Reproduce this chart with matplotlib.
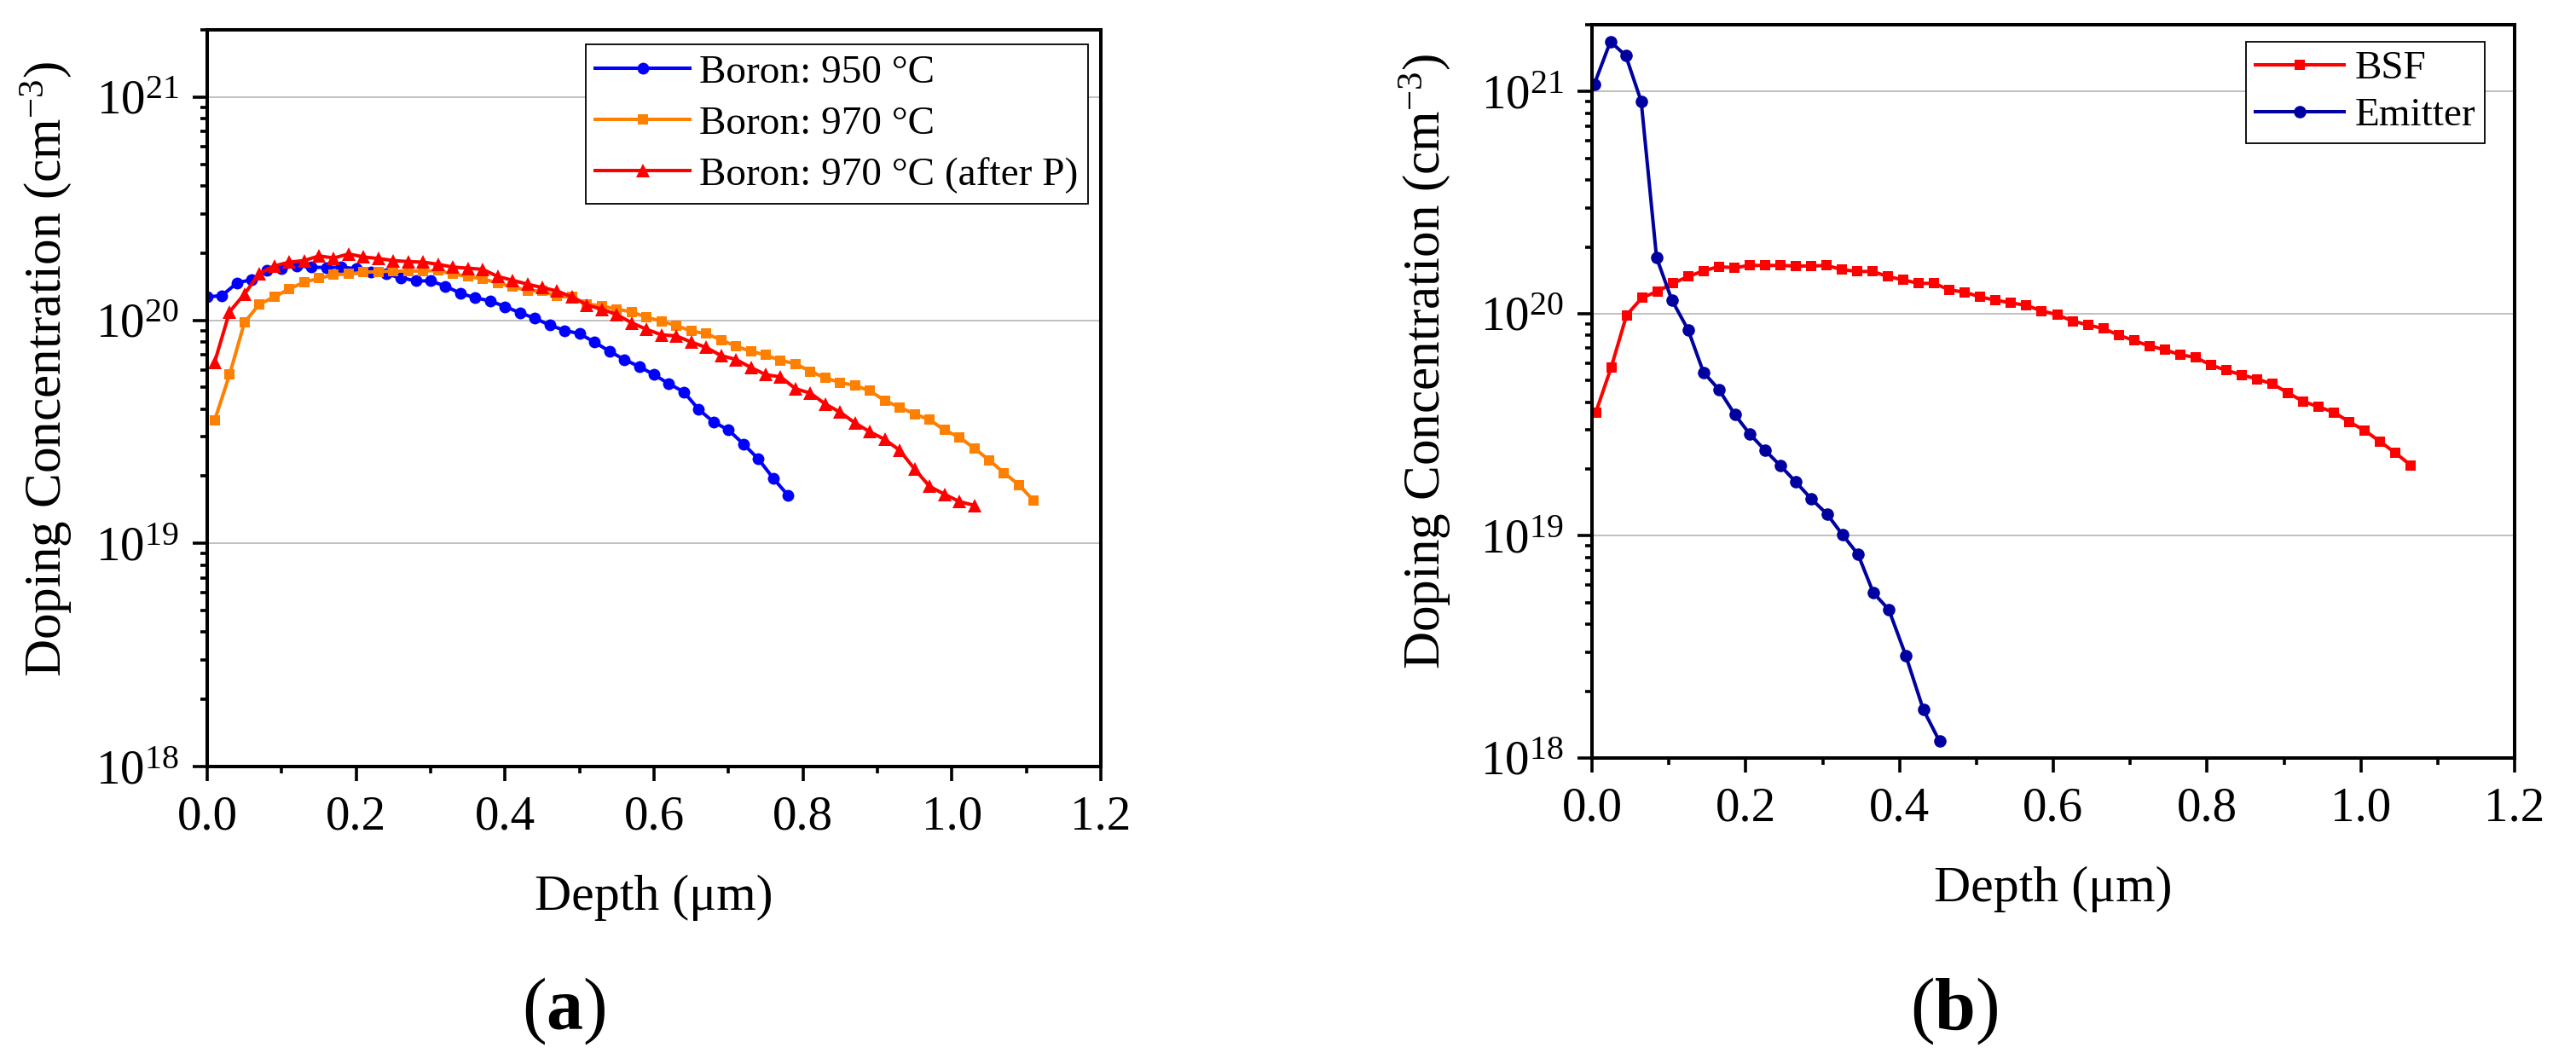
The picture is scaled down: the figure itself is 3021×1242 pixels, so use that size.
import numpy as np
import matplotlib
matplotlib.use('Agg')
import matplotlib.pyplot as plt
from matplotlib.ticker import (LogLocator, NullFormatter, MultipleLocator,
                               FormatStrFormatter, LogFormatterMathtext)

# ---------------- data (a) ----------------
x_b950 = [0.00, 0.02, 0.04, 0.06, 0.08, 0.10, 0.12, 0.14, 0.16, 0.18,
          0.20, 0.22, 0.24, 0.26, 0.28, 0.30, 0.32, 0.34, 0.36, 0.38,
          0.40, 0.42, 0.44, 0.46, 0.48, 0.50, 0.52, 0.54, 0.56, 0.58,
          0.60, 0.62, 0.64, 0.66, 0.68, 0.70, 0.72, 0.74, 0.76, 0.78]
y_b950 = [1.27e20, 1.29e20, 1.47e20, 1.52e20, 1.67e20, 1.71e20, 1.75e20, 1.73e20, 1.72e20, 1.73e20,
          1.70e20, 1.64e20, 1.61e20, 1.55e20, 1.50e20, 1.50e20, 1.42e20, 1.32e20, 1.26e20, 1.22e20,
          1.15e20, 1.08e20, 1.02e20, 9.5e19, 9.0e19, 8.7e19, 7.98e19, 7.26e19, 6.67e19, 6.2e19,
          5.7e19, 5.19e19, 4.77e19, 3.98e19, 3.5e19, 3.22e19, 2.79e19, 2.39e19, 1.96e19, 1.64e19]

x_b970 = [0.01, 0.03, 0.05, 0.07, 0.09, 0.11, 0.13, 0.15, 0.17, 0.19,
          0.21, 0.23, 0.25, 0.27, 0.29, 0.31, 0.33, 0.35, 0.37, 0.39,
          0.41, 0.43, 0.45, 0.47, 0.49, 0.51, 0.53, 0.55, 0.57, 0.59,
          0.61, 0.63, 0.65, 0.67, 0.69, 0.71, 0.73, 0.75, 0.77, 0.79,
          0.81, 0.83, 0.85, 0.87, 0.89, 0.91, 0.93, 0.95, 0.97, 0.99,
          1.01, 1.03, 1.05, 1.07, 1.09, 1.11]
y_b970 = [3.56e19, 5.7e19, 9.77e19, 1.18e20, 1.27e20, 1.38e20, 1.48e20, 1.54e20, 1.60e20, 1.61e20,
          1.64e20, 1.65e20, 1.66e20, 1.66e20, 1.66e20, 1.67e20, 1.61e20, 1.57e20, 1.53e20, 1.47e20,
          1.41e20, 1.36e20, 1.35e20, 1.28e20, 1.27e20, 1.18e20, 1.16e20, 1.12e20, 1.09e20, 1.03e20,
          9.9e19, 9.46e19, 8.94e19, 8.7e19, 8.17e19, 7.64e19, 7.26e19, 6.98e19, 6.6e19, 6.38e19,
          5.9e19, 5.51e19, 5.25e19, 5.1e19, 4.82e19, 4.36e19, 4.07e19, 3.8e19, 3.58e19, 3.22e19,
          2.99e19, 2.67e19, 2.36e19, 2.07e19, 1.83e19, 1.55e19]

x_b970p = [0.01, 0.03, 0.05, 0.07, 0.09, 0.11, 0.13, 0.15, 0.17, 0.19,
           0.21, 0.23, 0.25, 0.27, 0.29, 0.31, 0.33, 0.35, 0.37, 0.39,
           0.41, 0.43, 0.45, 0.47, 0.49, 0.51, 0.53, 0.55, 0.57, 0.59,
           0.61, 0.63, 0.65, 0.67, 0.69, 0.71, 0.73, 0.75, 0.77, 0.79,
           0.81, 0.83, 0.85, 0.87, 0.89, 0.91, 0.93, 0.95, 0.97, 0.99,
           1.01, 1.03]
y_b970p = [6.49e19, 1.09e20, 1.31e20, 1.62e20, 1.75e20, 1.82e20, 1.85e20, 1.94e20, 1.90e20, 1.98e20,
           1.92e20, 1.89e20, 1.85e20, 1.83e20, 1.82e20, 1.78e20, 1.73e20, 1.71e20, 1.69e20, 1.57e20,
           1.51e20, 1.45e20, 1.40e20, 1.35e20, 1.27e20, 1.17e20, 1.12e20, 1.06e20, 9.73e19, 9.1e19,
           8.6e19, 8.5e19, 7.98e19, 7.55e19, 6.94e19, 6.67e19, 6.14e19, 5.7e19, 5.57e19, 4.93e19,
           4.71e19, 4.21e19, 3.87e19, 3.46e19, 3.16e19, 2.92e19, 2.61e19, 2.15e19, 1.80e19, 1.66e19,
           1.54e19, 1.48e19]

# ---------------- data (b) ----------------
x_bsf = [0.005, 0.025, 0.045, 0.065, 0.085, 0.105, 0.125, 0.145, 0.165, 0.185,
         0.205, 0.225, 0.245, 0.265, 0.285, 0.305, 0.325, 0.345, 0.365, 0.385,
         0.405, 0.425, 0.445, 0.465, 0.485, 0.505, 0.525, 0.545, 0.565, 0.585,
         0.605, 0.625, 0.645, 0.665, 0.685, 0.705, 0.725, 0.745, 0.765, 0.785,
         0.805, 0.825, 0.845, 0.865, 0.885, 0.905, 0.925, 0.945, 0.965, 0.985,
         1.005, 1.025, 1.045, 1.065]
y_bsf = [3.6e19, 5.74e19, 9.86e19, 1.18e20, 1.26e20, 1.37e20, 1.47e20, 1.56e20, 1.63e20, 1.61e20,
         1.65e20, 1.65e20, 1.65e20, 1.64e20, 1.64e20, 1.65e20, 1.58e20, 1.55e20, 1.55e20, 1.47e20,
         1.42e20, 1.37e20, 1.37e20, 1.28e20, 1.25e20, 1.19e20, 1.15e20, 1.12e20, 1.09e20, 1.03e20,
         9.9e19, 9.27e19, 8.91e19, 8.57e19, 8.02e19, 7.57e19, 7.16e19, 6.88e19, 6.54e19, 6.36e19,
         5.88e19, 5.56e19, 5.31e19, 5.08e19, 4.83e19, 4.41e19, 4.03e19, 3.81e19, 3.6e19, 3.26e19,
         2.98e19, 2.66e19, 2.36e19, 2.08e19]

x_em = [0.003, 0.024, 0.044, 0.064, 0.084, 0.104, 0.125, 0.145, 0.165, 0.186,
        0.205, 0.225, 0.245, 0.265, 0.285, 0.306, 0.326, 0.346, 0.366, 0.386,
        0.408, 0.431, 0.452]
y_em = [1.08e21, 1.68e21, 1.45e21, 9.04e20, 1.79e20, 1.15e20, 8.47e19, 5.45e19, 4.56e19, 3.51e19,
        2.88e19, 2.43e19, 2.07e19, 1.75e19, 1.47e19, 1.25e19, 1.01e19, 8.26e18, 5.54e18, 4.66e18,
        2.9e18, 1.65e18, 1.19e18]

labels_a = ['Boron: 950 °C', 'Boron: 970 °C', 'Boron: 970 °C (after P)']
labels_b = ['BSF', 'Emitter']
x_ticks = [0.0, 0.2, 0.4, 0.6, 0.8, 1.0, 1.2]

plt.rcParams.update({
    'font.family': ['Liberation Serif', 'DejaVu Serif'],
    'mathtext.fontset': 'custom',
    'mathtext.rm': 'Liberation Serif',
    'mathtext.it': 'Liberation Serif:italic',
    'mathtext.bf': 'Liberation Serif:bold',
})

W, H = 3021, 1242
fig = plt.figure(figsize=(W / 100, H / 100), dpi=100)
ax1 = fig.add_axes([243 / W, 1 - 899 / H, 1048 / W, 864 / H])
ax2 = fig.add_axes([1867 / W, 1 - 889 / H, 1082 / W, 860 / H])


def style(ax):
    ax.set_yscale('log')
    ax.set_xlim(0, 1.2)
    ax.set_ylim(1e18, 2e21)
    ax.set_xticks(x_ticks)
    ax.xaxis.set_minor_locator(MultipleLocator(0.1))
    ax.xaxis.set_major_formatter(FormatStrFormatter('%.1f'))
    ax.yaxis.set_major_locator(LogLocator(base=10, numticks=10))
    ax.yaxis.set_minor_locator(LogLocator(base=10, subs=np.arange(2, 10), numticks=100))
    ax.yaxis.set_major_formatter(LogFormatterMathtext())
    ax.yaxis.set_minor_formatter(NullFormatter())
    ax.tick_params(which='both', direction='out', top=False, right=False,
                   width=2.6, labelsize=41, pad=11.5)
    ax.tick_params(which='major', length=12.5)
    ax.tick_params(which='minor', length=6)
    for s in ax.spines.values():
        s.set_linewidth(2.9)
    ax.yaxis.grid(True, which='major', color='#c0c0c0', lw=1.4)
    ax.set_axisbelow(True)


style(ax1)
style(ax2)

lw = 2.9
ax1.plot(x_b950, y_b950, '-o', color='#0000FF', lw=lw, ms=10, mew=0, label=labels_a[0])
ax1.plot(x_b970, y_b970, '-s', color='#FF8000', lw=lw, ms=9, mew=0, label=labels_a[1])
ax1.plot(x_b970p, y_b970p, '-^', color='#FF0000', lw=lw, ms=11, mew=0, label=labels_a[2])

ax2.plot(x_bsf, y_bsf, '-s', color='#FF0000', lw=lw, ms=9, mew=0, label=labels_b[0])
ax2.plot(x_em, y_em, '-o', color='#0000A0', lw=lw, ms=10.5, mew=0, label=labels_b[1])

leg1 = ax1.legend(loc='upper right', bbox_to_anchor=(1276 / W, 1 - 52 / H),
                  bbox_transform=fig.transFigure, borderaxespad=0, fontsize=34,
                  frameon=True, fancybox=False, edgecolor='black', framealpha=1,
                  handlelength=2.35, handletextpad=0.22, borderpad=0.25, labelspacing=0.36)
leg1.get_frame().set_linewidth(1.3)
leg2 = ax2.legend(loc='upper right', bbox_to_anchor=(2914 / W, 1 - 49 / H),
                  bbox_transform=fig.transFigure, borderaxespad=0, fontsize=34,
                  frameon=True, fancybox=False, edgecolor='black', framealpha=1,
                  handlelength=2.2, handletextpad=0.28, borderpad=0.22, labelspacing=0.25)
leg2.get_frame().set_linewidth(1.3)

for ax, xc, xb, yc, yl in [(ax1, 767, 1067, 54, 433), (ax2, 2408, 1057, 1671, 424)]:
    ax.set_xlabel('Depth (μm)', fontsize=43)
    ax.xaxis.set_label_coords(xc / W, 1 - xb / H, transform=fig.transFigure)
    ax.xaxis.label.set_va('baseline')
    ax.set_ylabel('Doping Concentration (cm$^{-3}$)', fontsize=44)
    ax.yaxis.set_label_coords(yc / W, 1 - yl / H, transform=fig.transFigure)
    ax.yaxis.label.set_va('center')

fig.text(661 / W, 1 - 1186 / H, r'$(\mathbf{a})$', fontsize=62, ha='center', va='center')
fig.text(2292 / W, 1 - 1186 / H, r'$(\mathbf{b})$', fontsize=62, ha='center', va='center')

fig.savefig('out.png', dpi=100)
